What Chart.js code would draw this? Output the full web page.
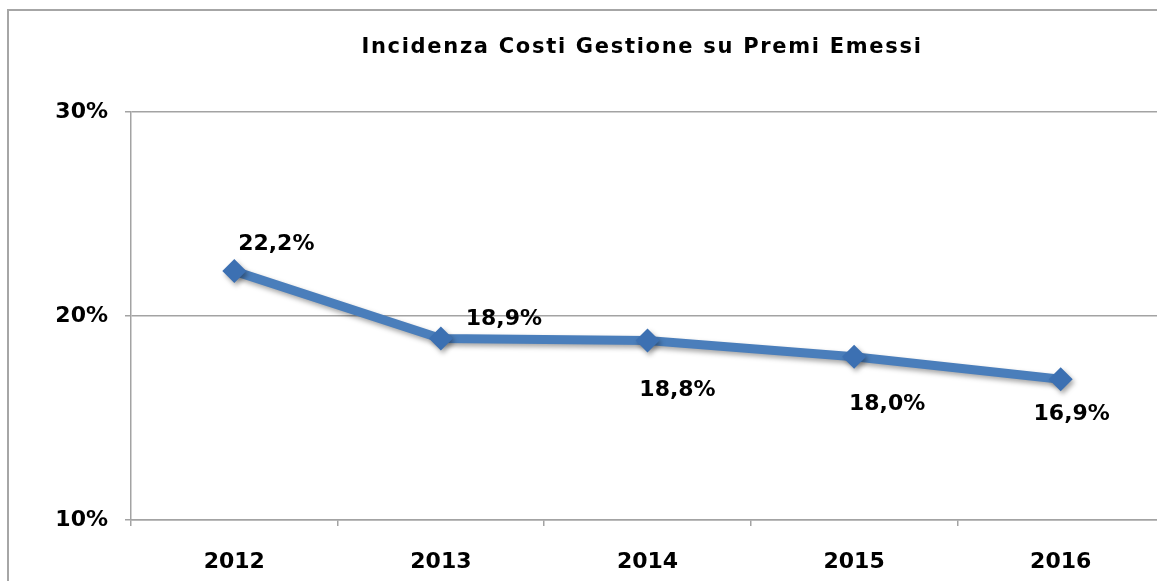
<!DOCTYPE html>
<html><head><meta charset="utf-8">
<script src="https://cdn.jsdelivr.net/npm/chart.js@4"></script>
<style>
html,body{margin:0;padding:0;overflow:hidden;background:#fff}
#c{position:absolute;left:0;top:0}
</style></head>
<body><canvas id="c" width="1176" height="600"></canvas>
<script>
const chartTitle = 'Incidenza Costi Gestione su Premi Emessi';
const years = ['2012', '2013', '2014', '2015', '2016'];
const incidenza = [22.2, 18.9, 18.8, 18.0, 16.9];
const yMin = 10, yMax = 30, yStep = 10;

const FONT = '"DejaVu Sans", Verdana, sans-serif';
const GRID = '#a3a3a3';

// label offsets relative to each point (placement only)
const labelOffsets = [[42, -27], [63, -19], [30, 50], [33, 47], [11, 35]];

const frame = {
  id: 'frame',
  beforeDraw(chart) {
    const ctx = chart.ctx;
    ctx.save();
    ctx.strokeStyle = '#a6a6a6';
    ctx.lineWidth = 2;
    ctx.strokeRect(8, 10, 3000, 3000);
    ctx.fillStyle = '#000';
    ctx.font = 'bold 21px ' + FONT;
    ctx.letterSpacing = '1.7px';
    ctx.textAlign = 'center';
    ctx.textBaseline = 'middle';
    ctx.fillText(chartTitle, 642, 48);
    ctx.restore();
  }
};

const shadow = {
  id: 'shadow',
  beforeDatasetsDraw(chart) {
    const ctx = chart.ctx;
    ctx.save();
    ctx.shadowColor = 'rgba(0,0,0,0.35)';
    ctx.shadowBlur = 5;
    ctx.shadowOffsetX = 2;
    ctx.shadowOffsetY = 3;
  },
  afterDatasetsDraw(chart) {
    chart.ctx.restore();
  }
};

const valueLabels = {
  id: 'valueLabels',
  afterDatasetsDraw(chart) {
    const ctx = chart.ctx;
    const meta = chart.getDatasetMeta(0);
    ctx.save();
    ctx.fillStyle = '#000';
    ctx.font = 'bold 22px ' + FONT;
    ctx.textAlign = 'center';
    ctx.textBaseline = 'middle';
    meta.data.forEach((pt, i) => {
      const v = chart.data.datasets[0].data[i];
      const txt = v.toFixed(1).replace('.', ',') + '%';
      const off = labelOffsets[i];
      ctx.fillText(txt, pt.x + off[0], pt.y + off[1]);
    });
    ctx.restore();
  }
};

new Chart(document.getElementById('c'), {
  type: 'line',
  data: {
    labels: years,
    datasets: [{
      data: incidenza,
      borderColor: '#4a7ebb',
      backgroundColor: '#3c70b2',
      borderWidth: 9,
      pointStyle: 'rectRot',
      pointRadius: 12,
      pointBorderWidth: 0,
      pointBackgroundColor: '#3c70b2',
      tension: 0,
      fill: false
    }]
  },
  options: {
    responsive: false,
    animation: false,
    devicePixelRatio: 1,
    layout: { padding: { top: 112, right: 6.5, left: 0, bottom: 0 } },
    plugins: { legend: { display: false }, tooltip: { enabled: false }, title: { display: false } },
    scales: {
      x: {
        type: 'category',
        offset: true,
        grid: { display: true, drawOnChartArea: false, tickLength: 6, color: GRID, lineWidth: 1.5, offset: true },
        border: { color: GRID, width: 1.5 },
        ticks: { font: { family: FONT, size: 22, weight: 'bold' }, color: '#000', padding: 23 },
        afterFit(s) { s.height = 80; }
      },
      y: {
        min: yMin, max: yMax,
        ticks: { stepSize: yStep, callback: v => v + '%', font: { family: FONT, size: 22, weight: 'bold' }, color: '#000', padding: 17 },
        grid: { color: GRID, lineWidth: 1.5, tickLength: 6 },
        border: { color: GRID, width: 1.5 },
        afterFit(s) { s.width = 131; }
      }
    }
  },
  plugins: [frame, shadow, valueLabels]
});
</script>
</body></html>
